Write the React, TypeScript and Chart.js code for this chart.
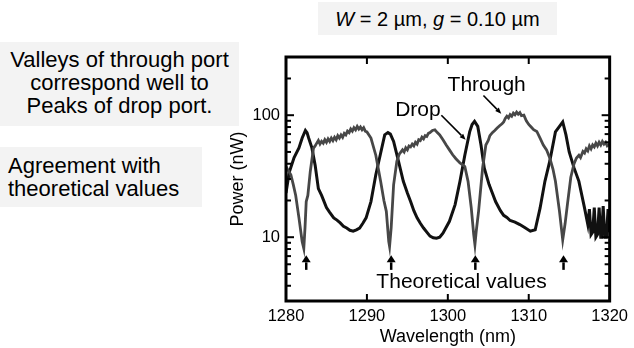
import React, { useEffect, useRef } from "react";
import { Chart, registerables } from "chart.js";

Chart.register(...registerables);

// ---- data ----
const dropWavelength = [
  1280.0, 1280.4, 1281.0, 1281.6, 1282.0, 1282.4, 1282.6, 1282.8, 1283.2, 1283.6,
  1284.0, 1284.4, 1285.0, 1285.4, 1285.9, 1286.3, 1286.7, 1287.1, 1287.5, 1287.9,
  1288.3, 1288.7, 1289.1, 1289.5, 1289.9, 1290.5, 1291.1, 1291.7, 1292.2, 1292.6,
  1292.9, 1293.3, 1293.9, 1294.5, 1295.0, 1295.4, 1295.8, 1296.2, 1296.6, 1297.0,
  1297.4, 1297.8, 1298.2, 1298.6, 1299.0, 1299.4, 1300.2, 1300.9, 1301.5, 1302.1,
  1302.7, 1303.0, 1303.3, 1303.7, 1304.1, 1304.5, 1305.1, 1305.5, 1305.9, 1306.5,
  1306.9, 1307.3, 1307.7, 1308.3, 1308.9, 1309.5, 1310.2, 1310.8, 1311.4, 1312.0,
  1312.6, 1313.3, 1313.8, 1314.2, 1314.6, 1315.0, 1315.6, 1316.2, 1316.9, 1317.3,
  1317.5, 1317.7, 1317.9, 1318.1, 1318.3, 1318.5, 1318.7, 1318.9, 1319.0, 1319.2,
  1319.4, 1319.6, 1319.8, 1320.0,
];
const dropPower = [
  23, 34, 45, 54, 65, 75, 72, 65, 54, 39,
  25, 22, 17.5, 16, 14.4, 13.8, 13.1, 12.3, 11.9, 11.4,
  11.2, 11.5, 11.9, 13, 14.4, 19.6, 32.5, 49, 69, 72,
  70, 61, 42, 28.7, 23, 19.6, 16.5, 14.4, 13, 11.9,
  11, 10.2, 9.9, 9.8, 10, 10.8, 13.5, 18.5, 28.7, 47,
  73, 84, 89, 81, 57, 37, 27, 23, 19.6, 16.5,
  15.1, 14.5, 13.7, 13.3, 12.7, 12, 11.2, 11.5, 17.3, 28.7,
  42, 73, 81, 88, 69, 50, 37, 28.7, 17.3, 12.7,
  17, 10.5, 11, 17.5, 10, 10.5, 17.5, 10, 10, 18,
  10, 10, 17, 11,
];

const throughWavelength = [
  1280.0, 1280.3, 1280.6, 1280.9, 1281.2, 1281.6, 1282.0, 1282.2, 1282.35, 1282.5,
  1282.7, 1283.0, 1283.4, 1283.6, 1283.8, 1284.0, 1284.2, 1284.4, 1284.6, 1284.8,
  1285.0, 1285.2, 1285.4, 1285.6, 1285.8, 1286.0, 1286.2, 1286.4, 1286.6, 1286.8,
  1287.0, 1287.2, 1287.4, 1287.6, 1287.8, 1288.0, 1288.2, 1288.4, 1288.6, 1288.8,
  1289.0, 1289.2, 1289.4, 1289.6, 1289.8, 1290.0, 1290.5, 1291.1, 1291.7, 1292.1,
  1292.4, 1292.7, 1292.8, 1293.0, 1293.3, 1293.7, 1294.0, 1294.4, 1294.6, 1294.8,
  1295.0, 1295.2, 1295.4, 1295.6, 1295.8, 1296.0, 1296.2, 1296.4, 1296.6, 1296.8,
  1297.0, 1297.2, 1297.4, 1297.6, 1297.8, 1298.1, 1298.4, 1298.7, 1299.0, 1299.4,
  1299.8, 1300.2, 1300.6, 1301.0, 1301.5, 1302.1, 1302.5, 1302.9, 1303.2, 1303.35,
  1303.5, 1303.8, 1304.3, 1304.7, 1305.0, 1305.2, 1305.5, 1305.8, 1306.1, 1306.4,
  1306.7, 1306.9, 1307.1, 1307.3, 1307.5, 1307.7, 1307.9, 1308.1, 1308.3, 1308.5,
  1308.7, 1308.9, 1309.1, 1309.4, 1309.7, 1310.0, 1310.3, 1310.6, 1311.0, 1311.4,
  1311.8, 1312.2, 1312.6, 1313.0, 1313.3, 1313.8, 1314.2, 1314.5, 1314.8, 1315.2,
  1315.6, 1315.9, 1316.2, 1316.4, 1316.7, 1316.9, 1317.1, 1317.3, 1317.5, 1317.7,
  1317.9, 1318.1, 1318.3, 1318.5, 1318.7, 1318.9, 1319.1, 1319.3, 1319.5, 1319.7,
  1320.0,
];
const throughPower = [
  38, 35, 32.5, 27, 22, 14.4, 9.2, 8.1, 12, 19.6,
  22, 34.6, 53.8, 56, 59, 62, 58, 61, 59, 63,
  60, 64, 61, 65, 62, 66, 63, 68, 65, 69,
  66, 71, 69, 74, 72, 77, 74, 79, 76, 81,
  77, 80, 76, 79, 74, 73, 65, 47, 28.6, 20,
  16.3, 9.2, 8.4, 12, 26.9, 41.8, 48, 52, 50, 54,
  52, 56, 55, 58, 56, 60, 58, 63, 62, 66,
  64, 68, 67, 71, 72, 75, 76, 72, 69, 63,
  57, 52, 47.4, 44, 40.6, 38, 28.7, 17.3, 10.5, 8.7,
  11, 16.3, 36.9, 57, 62, 68, 72, 75, 78.5, 82,
  85, 88, 94, 98, 95, 101, 98, 104, 101, 106,
  102, 105, 99, 100, 90, 84, 80, 76, 73.6, 65,
  57, 52, 44.6, 36, 28.7, 16.3, 9.5, 13, 19, 31,
  40, 44.6, 47, 45, 50.5, 49, 53, 51, 56, 53,
  57, 55, 59, 56, 60, 57, 61, 58, 60, 56,
  58,
];

const theoryWavelengths = [1282.5, 1293.0, 1303.4, 1314.3];

const xTickValues = [1280, 1290, 1300, 1310, 1320];
const yLabelTicks = [10, 100];
const yMinorTicks = [3, 4, 5, 6, 7, 8, 9, 20, 30, 40, 50, 60, 70, 80, 90, 200, 300];

const FONT = '"Liberation Sans", Arial, Helvetica, sans-serif';

function arrow(ctx: CanvasRenderingContext2D, x1: number, y1: number, x2: number, y2: number, lw: number, hl: number, hw: number) {
  const ang = Math.atan2(y2 - y1, x2 - x1);
  const bx = x2 - hl * Math.cos(ang);
  const by = y2 - hl * Math.sin(ang);
  ctx.lineWidth = lw;
  ctx.beginPath();
  ctx.moveTo(x1, y1);
  ctx.lineTo(bx, by);
  ctx.stroke();
  ctx.beginPath();
  ctx.moveTo(x2, y2);
  ctx.lineTo(bx + (hw / 2) * Math.sin(ang), by - (hw / 2) * Math.cos(ang));
  ctx.lineTo(bx - (hw / 2) * Math.sin(ang), by + (hw / 2) * Math.cos(ang));
  ctx.closePath();
  ctx.fill();
}

const framePlugin = {
  id: "frame",
  afterDatasetsDraw(chart: any) {
    const { ctx, chartArea: a, scales } = chart;
    const x = scales.x;
    const y = scales.y;
    ctx.save();
    ctx.strokeStyle = "#000";
    ctx.fillStyle = "#000";
    ctx.lineCap = "butt";
    const seg = (x1: number, y1: number, x2: number, y2: number) => {
      ctx.beginPath();
      ctx.moveTo(x1, y1);
      ctx.lineTo(x2, y2);
      ctx.stroke();
    };
    ctx.lineWidth = 2;
    for (const v of xTickValues.slice(1, -1)) {
      const px = x.getPixelForValue(v);
      seg(px, a.bottom, px, a.bottom - 7);
      seg(px, a.top, px, a.top + 7);
    }
    for (const v of yMinorTicks) {
      const py = y.getPixelForValue(v);
      seg(a.left, py, a.left + 5, py);
      seg(a.right, py, a.right - 5, py);
    }
    for (const v of yLabelTicks) {
      const py = y.getPixelForValue(v);
      seg(a.left, py, a.left + 8, py);
      seg(a.right, py, a.right - 8, py);
    }
    ctx.lineWidth = 3;
    ctx.strokeRect(a.left, a.top, a.right - a.left, a.bottom - a.top);

    // annotations
    ctx.font = `21px ${FONT}`;
    ctx.textAlign = "center";
    ctx.textBaseline = "middle";
    ctx.fillText("Through", x.getPixelForValue(1304.8), y.getPixelForValue(176));
    ctx.fillText("Drop", x.getPixelForValue(1296.3), y.getPixelForValue(110));
    ctx.fillText("Theoretical values", x.getPixelForValue(1301.7), y.getPixelForValue(4.3));
    arrow(ctx, x.getPixelForValue(1304.4), y.getPixelForValue(145), x.getPixelForValue(1306.6), y.getPixelForValue(103), 1.6, 6, 5);
    arrow(ctx, x.getPixelForValue(1299.2), y.getPixelForValue(100), x.getPixelForValue(1302.2), y.getPixelForValue(63), 1.6, 6, 5);
    for (const w of theoryWavelengths) {
      const px = x.getPixelForValue(w);
      arrow(ctx, px, y.getPixelForValue(5.4), px, y.getPixelForValue(7.1), 2.5, 7, 9);
    }
    ctx.restore();
  },
};

export default function App() {
  const ref = useRef<HTMLCanvasElement | null>(null);
  useEffect(() => {
    if (!ref.current) return;
    const chart = new Chart(ref.current, {
      type: "line",
      data: {
        datasets: [
          {
            label: "Through",
            data: throughWavelength.map((w, i) => ({ x: w, y: throughPower[i] })),
            borderColor: "#474747",
            borderWidth: 2.8,
            pointRadius: 0,
            tension: 0,
          },
          {
            label: "Drop",
            data: dropWavelength.map((w, i) => ({ x: w, y: dropPower[i] })),
            borderColor: "#111111",
            borderWidth: 3,
            pointRadius: 0,
            tension: 0,
          },
        ],
      },
      options: {
        responsive: false,
        animation: false,
        layout: { padding: { left: 226, top: 57, right: 21, bottom: 0 } },
        plugins: { legend: { display: false }, tooltip: { enabled: false }, title: { display: false } },
        scales: {
          x: {
            type: "linear",
            min: 1280,
            max: 1320,
            afterBuildTicks: (s: any) => {
              s.ticks = xTickValues.map((v) => ({ value: v }));
            },
            afterFit: (s: any) => {
              s.height = 47;
            },
            grid: { display: false, drawTicks: false, tickLength: 0 },
            border: { display: false },
            ticks: {
              color: "#000",
              padding: 6,
              maxRotation: 0,
              font: { family: FONT, size: 16.5 },
              callback: (v: any) => String(v),
            },
            title: {
              display: true,
              text: "Wavelength (nm)",
              color: "#000",
              font: { family: FONT, size: 18 },
              padding: { top: 0, bottom: 0 },
            },
          },
          y: {
            type: "logarithmic",
            min: 3,
            max: 300,
            afterBuildTicks: (s: any) => {
              s.ticks = yLabelTicks.map((v) => ({ value: v }));
            },
            afterFit: (s: any) => {
              s.width = 60;
            },
            grid: { display: false, drawTicks: false, tickLength: 0 },
            border: { display: false },
            ticks: {
              color: "#000",
              padding: 6,
              font: { family: FONT, size: 16.5 },
              callback: (v: any) => String(v),
            },
            title: {
              display: true,
              text: "Power (nW)",
              color: "#000",
              font: { family: FONT, size: 18 },
              padding: { top: 1, bottom: 0 },
            },
          },
        },
      },
      plugins: [framePlugin],
    } as any);
    return () => chart.destroy();
  }, []);

  const boxFont: React.CSSProperties = {
    position: "absolute",
    background: "#f3f3f3",
    fontFamily: FONT,
    fontSize: 22,
    lineHeight: "23px",
    color: "#000",
    boxSizing: "border-box",
    whiteSpace: "nowrap",
  };

  return (
    <div style={{ position: "absolute", left: 0, top: 0, width: 634, height: 348, background: "#fff", overflow: "hidden" }}>
      <canvas ref={ref} width={634} height={348} style={{ position: "absolute", left: 0, top: 0, width: 634, height: 348 }} />
      <div style={{ ...boxFont, left: 318, top: 2, width: 239, height: 33, paddingTop: 6, textAlign: "center", fontSize: 20 }}>
        <i>W</i> = 2 µm, <i>g</i> = 0.10 µm
      </div>
      <div style={{ ...boxFont, left: 0, top: 42, width: 239, height: 84, paddingTop: 6, textAlign: "center" }}>
        Valleys of through port
        <br />
        correspond well to
        <br />
        Peaks of drop port.
      </div>
      <div style={{ ...boxFont, left: 0, top: 147, width: 202, height: 60, paddingTop: 7, paddingLeft: 8, textAlign: "left" }}>
        Agreement with
        <br />
        theoretical values
      </div>
    </div>
  );
}
